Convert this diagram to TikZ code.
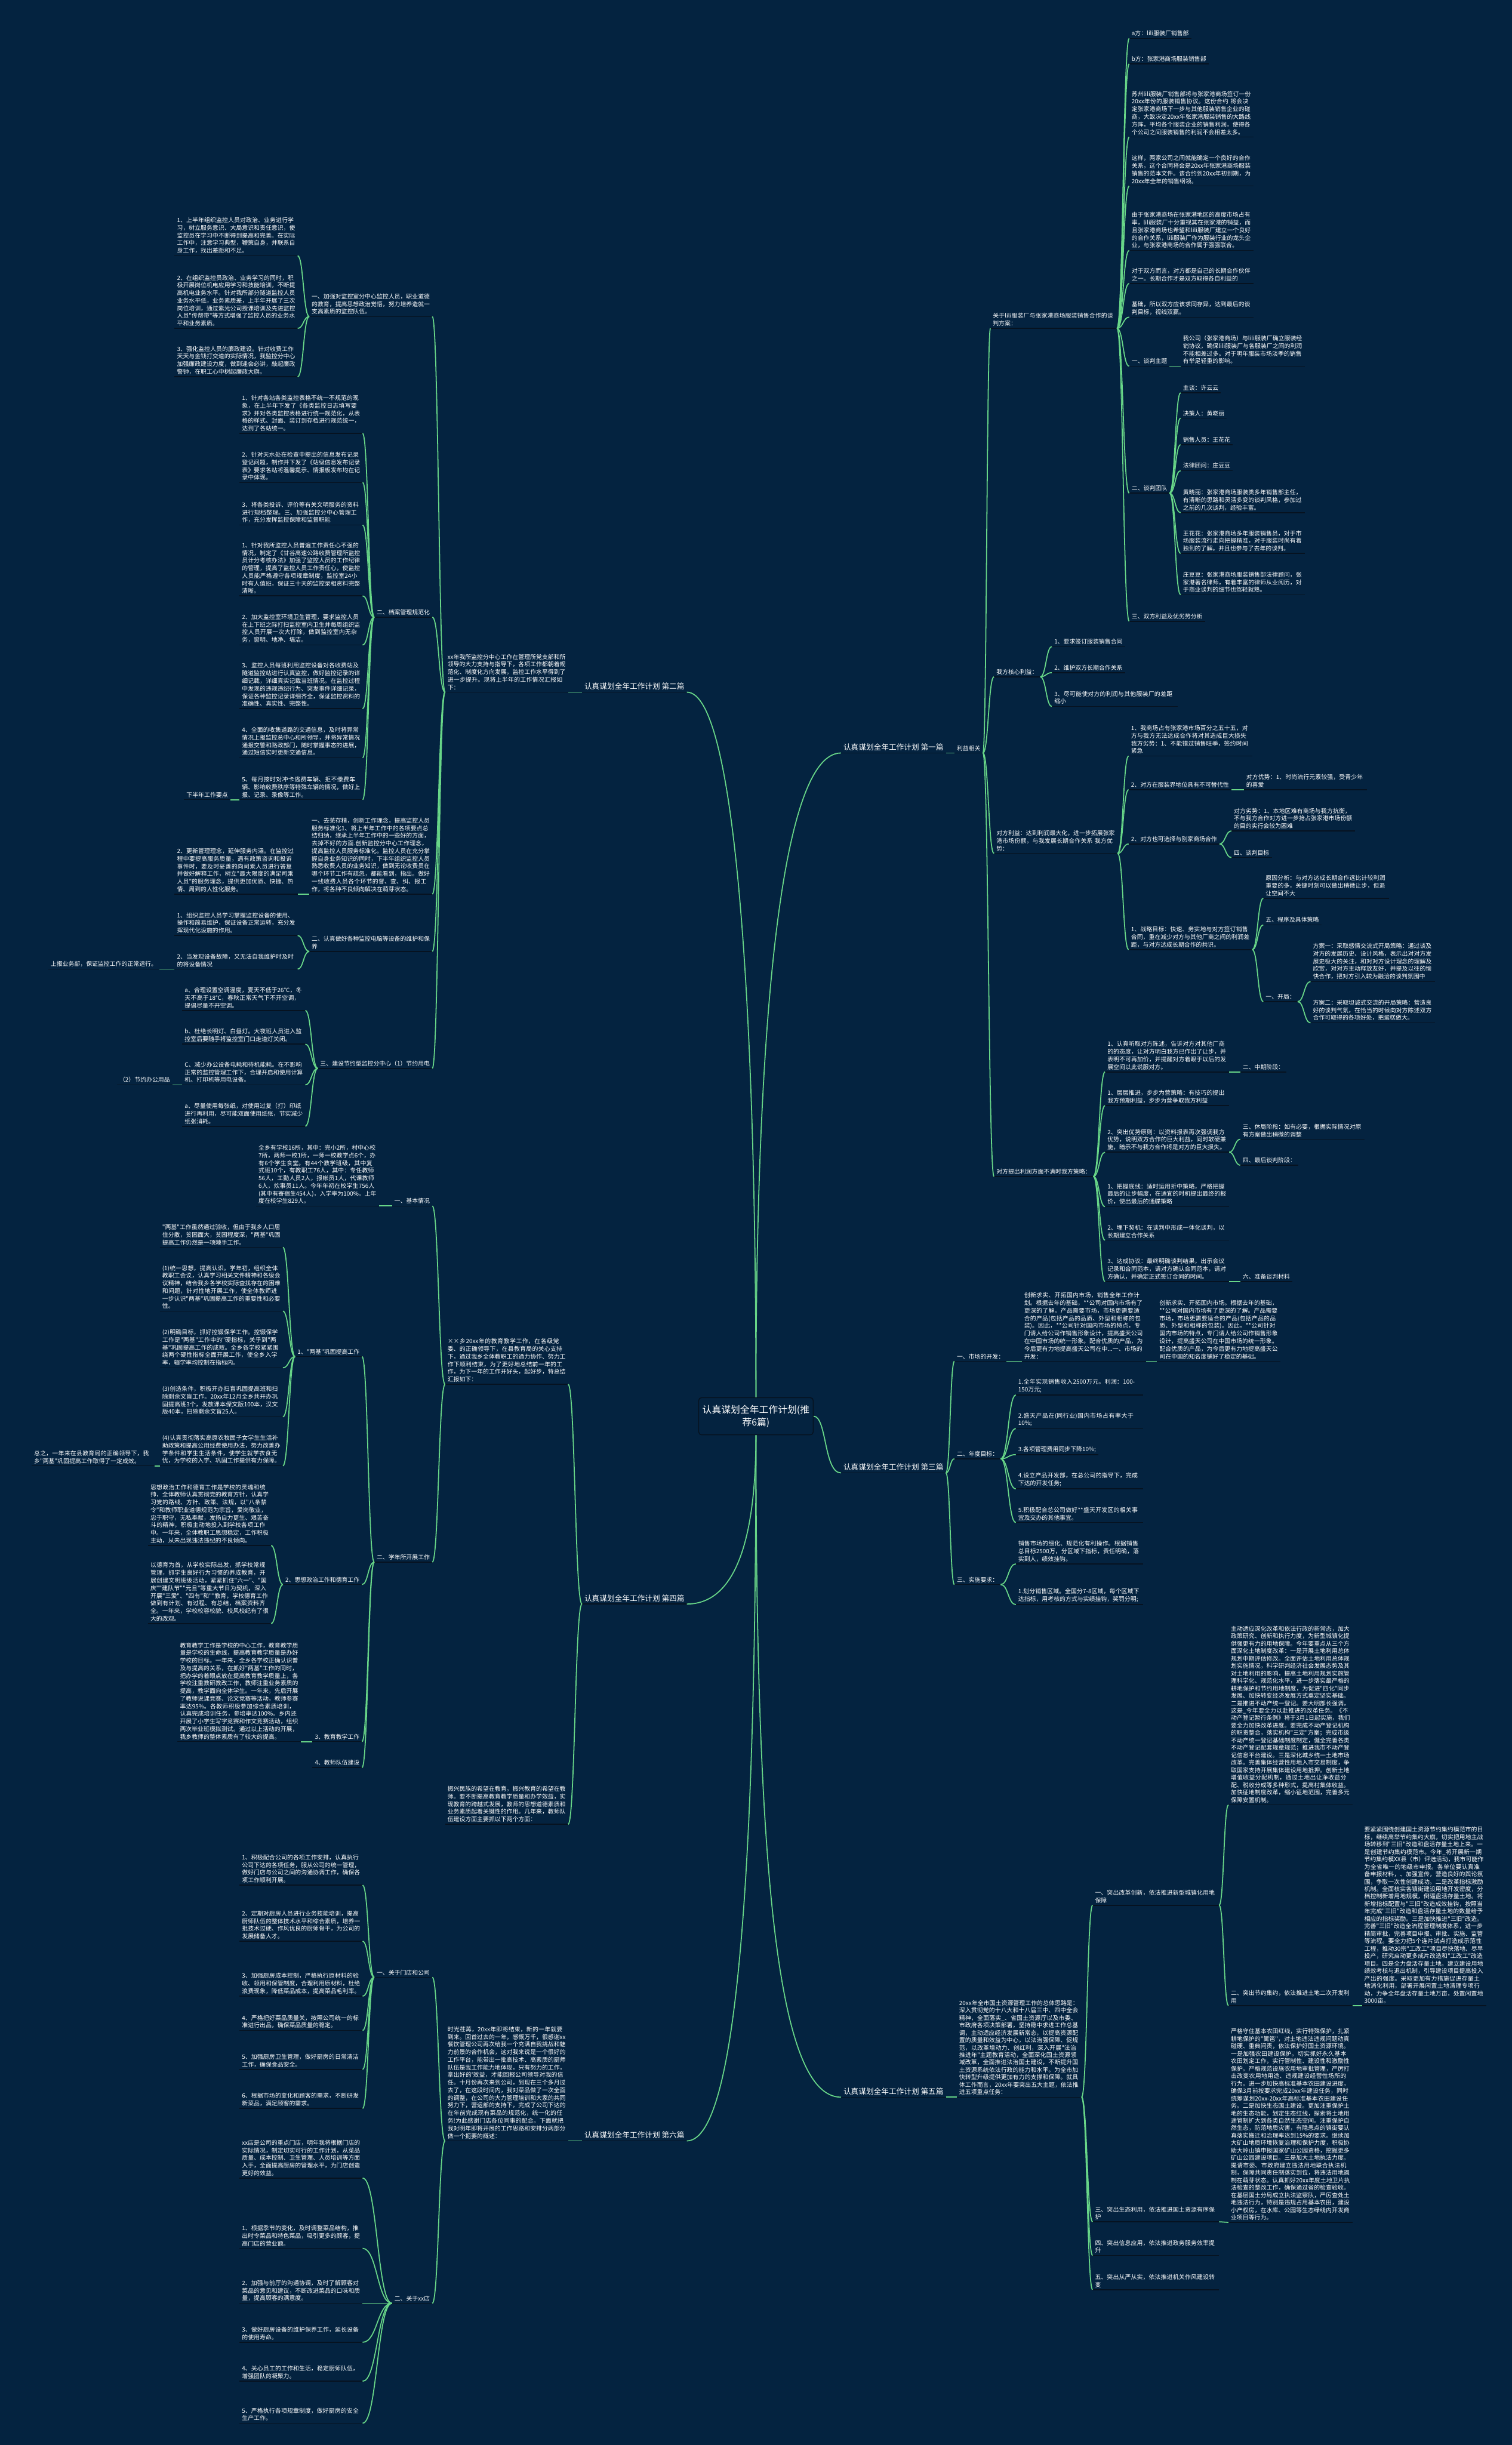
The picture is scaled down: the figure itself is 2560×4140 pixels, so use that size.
\documentclass[tikz,border=0pt]{standalone}
\usepackage{fontspec}
\usetikzlibrary{calc}
\newfontfamily\cjk{Noto Sans CJK SC}
\XeTeXlinebreaklocale "zh"
\XeTeXlinebreakskip=0pt plus 1pt
\definecolor{bgc}{RGB}{4,35,64}
\definecolor{grc}{RGB}{104,214,136}
\definecolor{ulc}{RGB}{6,18,32}
\tikzset{
  tx/.style={text=white,font=\cjk\fontsize{10}{12.9}\selectfont,inner xsep=4pt,inner ysep=3.5pt,align=left,
    append after command={(\tikzlastnode.south west) edge[draw=ulc,line width=1.6pt] (\tikzlastnode.south east)}},
  big/.style={font=\cjk\fontsize{12.8}{15}\selectfont},
  conn/.style={draw=grc,line width=1.8pt},
  br/.style={to path={let \p1=(\tikztostart),\p2=(\tikztotarget) in .. controls ({0.5*\x1+0.5*\x2},\y1) and ({0.5*\x1+0.5*\x2},\y2) .. (\tikztotarget)}},
}
\newcommand\myR[5]{\node[tx,anchor=south west,text width=#4pt] (#1) at (#2,#3) {#5};}
\newcommand\myRs[4]{\node[tx,anchor=south west] (#1) at (#2,#3) {#4};}
\newcommand\myL[5]{\node[tx,anchor=south east,text width=#4pt] (#1) at (#2,#3) {#5};}
\newcommand\myLs[4]{\node[tx,anchor=south east] (#1) at (#2,#3) {#4};}
\newcommand\myCR[2]{\draw[conn] (#1.south east) to[br] (#2.south west);}
\newcommand\myCL[2]{\draw[conn] (#1.south west) to[br] (#2.south east);}
\begin{document}
\begin{tikzpicture}[x=1pt,y=-1pt]
\fill[bgc] (0,0) rectangle (2560,4140);
\useasboundingbox (0,0) rectangle (2560,4140);

% ---------- root ----------
\node[draw=ulc,fill=bgc,line width=1.5pt,rounded corners=5pt,text=white,font=\cjk\fontsize{16}{21}\selectfont,
  align=center,minimum width=194pt,minimum height=63pt] (root) at (1280,2398) {认真谋划全年工作计划(推\\荐6篇)};

% ---------- main branches ----------
\node[tx,big,anchor=south east] (B0) at (1163,1172) {认真谋划全年工作计划 第二篇};
\node[tx,big,anchor=south west] (A0) at (1424,1275) {认真谋划全年工作计划 第一篇};
\node[tx,big,anchor=south west] (C0) at (1424,2494) {认真谋划全年工作计划 第三篇};
\node[tx,big,anchor=south east] (D0) at (1163,2716) {认真谋划全年工作计划 第四篇};
\node[tx,big,anchor=south west] (E0) at (1424,3551) {认真谋划全年工作计划 第五篇};
\node[tx,big,anchor=south east] (F0) at (1163,3625) {认真谋划全年工作计划 第六篇};

\draw[conn] (root.north) .. controls (1280,1700) and (1245,1172) .. (B0.south east);
\draw[conn] (root.north) .. controls (1280,1750) and (1320,1275) .. (A0.south west);
\draw[conn] (root.east) .. controls (1400,2398) and (1395,2494) .. (C0.south west);
\draw[conn] (root.south) .. controls (1280,2620) and (1240,2716) .. (D0.south east);
\draw[conn] (root.south) .. controls (1280,3200) and (1320,3551) .. (E0.south west);
\draw[conn] (root.south) .. controls (1280,3250) and (1240,3625) .. (F0.south east);

% ================= 第二篇 =================
\myL{B1}{962}{1172}{200}{xx年我所监控分中心工作在管理所党支部和所领导的大力支持与指导下，各项工作都朝着规范化、制度化方向发展，监控工作水平得到了进一步提升。现将上半年的工作情况汇报如下：}
\myL{B2a}{732}{536}{200}{一、加强对监控室分中心监控人员，职业道德的教育，提高思想政治觉悟，努力培养造就一支高素质的监控队伍。}
\myLs{B2b}{732}{1045}{二、档案管理规范化}
\myL{B2c}{732}{1514}{200}{一、去芜存精，创新工作理念，提高监控人员服务标准化1、将上半年工作中的各项要点总结归纳，继承上半年工作中的一些好的方面，去掉不好的方面.创新监控分中心工作理念，提高监控人员服务标准化。监控人员在充分掌握自身业务知识的同时，下半年组织监控人员熟悉收费人员的业务知识，做到无论收费员在哪个环节工作有疏忽，都能看到，指出。做好一线收费人员各个环节的督、查、纠、报工作，将各种不良倾向解决在萌芽状态。}
\myL{B2d}{732}{1611}{200}{二、认真做好各种监控电脑等设备的维护和保养}
\myLs{B2e}{732}{1809}{三、建设节约型监控分中心（1）节约用电}
\myL{Ba1}{504}{433}{200}{1、上半年组织监控人员对政治、业务进行学习，树立服务意识、大局意识和责任意识，使监控员在学习中不断得到提高和完善。在实际工作中，注意学习典型，鞭策自身，并联系自身工作，找出差距和不足。}
\myL{Ba2}{504}{556}{200}{2、在组织监控员政治、业务学习的同时，积极开展岗位机电应用学习和技能培训，不断提高机电业务水平。针对我所部分隧道监控人员业务水平低，业务素质差，上半年开展了三次岗位培训，通过紫光公司授课培训及先进监控人员"传帮带"等方式增强了监控人员的业务水平和业务素质。}
\myL{Ba3}{504}{638}{200}{3、强化监控人员的廉政建设。针对收费工作天天与金钱打交道的实际情况，我监控分中心加强廉政建设力度，做到逢会必讲，敲起廉政警钟，在职工心中树起廉政大旗。}
\myL{Bb1}{614}{734}{200}{1、针对各站各类监控表格不统一不规范的现象，在上半年下发了《各类监控日志填写要求》并对各类监控表格进行统一规范化，从表格的样式、封面、装订到存档进行规范统一，达到了各站统一。}
\myL{Bb2}{614}{817}{200}{2、针对天水处在检查中提出的信息发布记录登记问题，制作并下发了《站级信息发布记录表》要求各站将温馨提示、情报板发布均在记录中体现。}
\myL{Bb3}{614}{889}{200}{3、将各类投诉、评价等有关文明服务的资料进行规档整理。三、加强监控分中心管理工作，充分发挥监控保障和监督职能}
\myL{Bb4}{614}{1009}{200}{1、针对我所监控人员普遍工作责任心不强的情况，制定了《甘谷高速公路收费管理所监控员计分考核办法》加强了监控人员的工作纪律的管理，提高了监控人员工作责任心，使监控人员能严格遵守各项规章制度，监控室24小时有人值班，保证三十天的监控录相资料完整清晰。}
\myL{Bb5}{614}{1092}{200}{2、加大监控室环境卫生管理，要求监控人员在上下班之际打扫监控室内卫生并每周组织监控人员开展一次大打除，做到监控室内无杂务，窗明、地净、墙洁。}
\myL{Bb6}{614}{1200}{200}{3、监控人员每班利用监控设备对各收费站及隧道监控站进行认真监控，做好监控记录的详细记载，详细真实记载当班情况。在监控过程中发现的违规违纪行为、突发事件详细记录，保证各种监控记录详细齐全，保证监控资料的准确性、真实性、完整性。}
\myL{Bb7}{614}{1283}{200}{4、全面的收集道路的交通信息，及时将异常情况上报监控总中心和所领导，并将异常情况通报交警和路政部门，随时掌握事态的进展，通过短信实时更新交通信息。}
\myL{Bb8}{614}{1354}{200}{5、每月按时对冲卡逃费车辆、拒不缴费车辆、影响收费秩序等特殊车辆的情况，做好上报、记录、录像等工作。}
\myLs{Bb9}{390}{1354}{下半年工作要点}
\myL{Bc1}{504}{1514}{200}{2、更新管理理念，延伸服务内涵。在监控过程中要提高服务质量，遇有政策咨询和投诉事件时，要及时妥善的向司乘人员进行答复并做好解释工作，树立"最大限度的满足司乘人员"的服务理念，提供更加优质、快捷、热情、周到的人性化服务。}
\myL{Bd1}{504}{1584}{200}{1、组织监控人员学习掌握监控设备的使用、操作和简易维护，保证设备正常运转，充分发挥现代化设施的作用。}
\myL{Bd2}{504}{1641}{200}{2、当发现设备故障，又无法自我维护时及时的将设备情况}
\myLs{Bd3}{270}{1641}{上报业务部，保证监控工作的正常运行。}
\myL{Be1}{517}{1711}{200}{a、合理设置空调温度，夏天不低于26℃，冬天不高于18℃，春秋正常天气下不开空调，提倡尽量不开空调。}
\myL{Be2}{517}{1768}{200}{b、杜绝长明灯、白昼灯。大夜班人员进入监控室后要随手将监控室门口走道灯关闭。}
\myL{Be3}{517}{1837}{200}{C、减少办公设备电耗和待机能耗。在不影响正常的监控管理工作下，合理开启和使用计算机、打印机等用电设备。}
\myL{Be4}{517}{1907}{200}{a、尽量使用每张纸，对使用过复（打）印纸进行再利用，尽可能双面使用纸张，节实减少纸张消耗。}
\myLs{Be5}{292}{1837}{（2）节约办公用品}

\myCL{B0}{B1}
\foreach \c in {B2a,B2b,B2c,B2d,B2e}{\myCL{B1}{\c}}
\foreach \c in {Ba1,Ba2,Ba3}{\myCL{B2a}{\c}}
\foreach \c in {Bb1,Bb2,Bb3,Bb4,Bb5,Bb6,Bb7,Bb8}{\myCL{B2b}{\c}}
\myCL{Bb8}{Bb9}
\myCL{B2c}{Bc1}
\foreach \c in {Bd1,Bd2}{\myCL{B2d}{\c}}
\myCL{Bd2}{Bd3}
\foreach \c in {Be1,Be2,Be3,Be4}{\myCL{B2e}{\c}}
\myCL{Be3}{Be5}

% ================= 第四篇 =================
\myL{D1}{962}{2344}{200}{××乡20xx年的教育教学工作，在各级党委、的正确领导下，在县教育局的关心支持下，通过我乡全体教职工的通力协作、努力工作下顺利结束，为了更好地总结前一年的工作，为下一年的工作开好头，起好步，特总结汇报如下：}
\myL{D2}{962}{3089}{200}{振兴民族的希望在教育，振兴教育的希望在教师。要不断提高教育教学质量和办学效益，实现教育的跨越式发展，教师的思想道德素质和业务素质起着关键性的作用。几年来，教师队伍建设方面主要抓以下两个方面：}
\myLs{Df1}{732}{2042}{一、基本情况}
\myLs{Df2}{732}{2645}{二、学年所开展工作}
\myL{Dg1}{642}{2042}{200}{全乡有学校16所，其中：完小2所，村中心校7所，两师一校1所，一师一校教学点6个，办有6个学生食堂。有44个教学班级，其中复式班10个，有教职工76人，其中：专任教师56人，工勤人员2人，报帐员1人，代课教师6人，炊事员11人。今年年初在校学生756人(其中有寄宿生454人)，入学率为100\%。上年度在校学生829人。}
\myLs{Dh1}{613}{2297}{1、"两基"巩固提高工作}
\myLs{Dh2}{613}{2683}{2、思想政治工作和德育工作}
\myLs{Dh3}{613}{2949}{3、教育教学工作}
\myLs{Dh4}{613}{2993}{4、教师队伍建设}
\myL{Dk1}{479}{2112}{200}{"两基"工作虽然通过验收，但由于我乡人口居住分散，贫困面大，贫困程度深，"两基"巩固提高工作仍然是一项棘手工作。}
\myL{Dk2}{479}{2220}{200}{(1)统一思想，提高认识。学年初，组织全体教职工会议，认真学习相关文件精神和各级会议精神，结合我乡各学校实际查找存在的困难和问题，针对性地开展工作，使全体教师进一步认识"两基"巩固提高工作的重要性和必要性。}
\myL{Dk3}{479}{2316}{200}{(2)明确目标，抓好控辍保学工作。控辍保学工作是"两基"工作中的"硬指标，关乎到"两基"巩固提高工作的成败。全乡各学校紧紧围绕两个硬性指标全面开展工作，使全乡入学率，辍学率均控制在指标内。}
\myL{Dk4}{479}{2399}{200}{(3)创造条件，积极开办扫盲巩固提高班和扫除剩余文盲工作。20xx年12月全乡共开办巩固提高班3个，发放课本傈文版100本，汉文版40本，扫除剩余文盲25人。}
\myL{Dk5}{479}{2482}{200}{(4)认真贯彻落实高原农牧民子女学生生活补助政策和提高公用经费使用办法，努力改善办学条件和学生生活条件，使学生就学衣食无忧，为学校的入学、巩固工作提供有力保障。}
\myL{Dk6}{262}{2482}{200}{总之，一年来在县教育局的正确领导下，我乡"两基"巩固提高工作取得了一定成效。}
\myL{Dm1}{459}{2617}{200}{思想政治工作和德育工作是学校的灵魂和统帅，全体教师认真贯彻党的教育方针，认真学习党的路线、方针、政策、法规，以"八条禁令"和教师职业道德规范为宗旨，爱岗敬业，忠于职守，无私奉献，发扬自力更生、艰苦奋斗的精神，积极主动地投入到学校各项工作中。一年来，全体教职工思想稳定，工作积极主动，从未出现违法违纪的不良倾向。}
\myL{Dm2}{459}{2749}{200}{以德育为首，从学校实际出发，抓学校常规管理，抓学生良好行为习惯的养成教育，开展创建文明班级活动，紧紧抓住"六一"、"国庆""建队节""元旦"等重大节日为契机，深入开展"三爱"、"四有"和""教育，学校德育工作做到有计划、有过程、有总结，档案资料齐全。一年来，学校校容校貌、校风校纪有了很大的改观。}
\myL{Dn1}{509}{2949}{200}{教育教学工作是学校的中心工作，教育教学质量是学校的生命线，提高教育教学质量是办好学校的目标。一年来，全乡各学校正确认识普及与提高的关系，在抓好"两基"工作的同时，把办学的着眼点放在提高教育教学质量上，各学校注重教研教改工作，教师注重业务素质的提高，教学面向全体学生。一年来，先后开展了教师说课竞赛、论文竞赛等活动，教师参赛率达95\%。各教师积极参加综合素质培训，认真完成培训任务，参培率达100\%。乡内还开展了小学生写字竞赛和作文竞赛活动，组织两次毕业班模拟测试。通过以上活动的开展，我乡教师的整体素质有了较大的提高。}

\foreach \c in {D1,D2}{\myCL{D0}{\c}}
\foreach \c in {Df1,Df2}{\myCL{D1}{\c}}
\myCL{Df1}{Dg1}
\foreach \c in {Dh1,Dh2,Dh3,Dh4}{\myCL{Df2}{\c}}
\foreach \c in {Dk1,Dk2,Dk3,Dk4,Dk5}{\myCL{Dh1}{\c}}
\myCL{Dk5}{Dk6}
\foreach \c in {Dm1,Dm2}{\myCL{Dh2}{\c}}
\myCL{Dh3}{Dn1}

% ================= 第六篇 =================
\myL{F1}{962}{3625}{200}{时光荏苒，20xx年即将结束，新的一年就要到来。回首过去的一年，感慨万千，很感谢xx餐饮管理公司再次给我一个充满自我挑战和魅力前景的合作机会，这对我来说是一个很好的工作平台，能带出一批高技术、高素质的厨师队伍是我工作能力地体现，只有努力的工作，拿出好的'效益，才能回报公司领导对我的信任。十月份再次来到公司，到现在三个多月过去了，在这段时间内，我对菜品做了一次全面的调整，在公司的大力管理培训和大家的共同努力下，营运部的支持下，完成了公司下达的在年前完成现有菜品的规范化，统一化的任务!为此感谢门店各位同事的配合。下面就把我对明年即将开展的工作思路和安排分两部分做一个扼要的概述：}
\myLs{F2a}{732}{3348}{一、关于门店和公司}
\myLs{F2b}{732}{3900}{二、关于xx店}
\myL{Fa1}{614}{3192}{200}{1、积极配合公司的各项工作安排，认真执行公司下达的各项任务，服从公司的统一管理，做好门店与公司之间的沟通协调工作，确保各项工作顺利开展。}
\myL{Fa2}{614}{3287}{200}{2、定期对厨房人员进行业务技能培训，提高厨师队伍的整体技术水平和综合素质，培养一批技术过硬、作风优良的厨师骨干，为公司的发展储备人才。}
\myL{Fa3}{614}{3380}{200}{3、加强厨房成本控制，严格执行原材料的验收、领用和保管制度，合理利用原材料，杜绝浪费现象，降低菜品成本，提高菜品毛利率。}
\myL{Fa4}{614}{3438}{200}{4、严格把好菜品质量关，按照公司统一的标准进行出品，确保菜品质量的稳定。}
\myL{Fa5}{614}{3504}{200}{5、加强厨房卫生管理，做好厨房的日常清洁工作，确保食品安全。}
\myL{Fa6}{614}{3570}{200}{6、根据市场的变化和顾客的需求，不断研发新菜品，满足顾客的需求。}
\myL{Fb1}{614}{3688}{200}{xx店是公司的重点门店，明年我将根据门店的实际情况，制定切实可行的工作计划，从菜品质量、成本控制、卫生管理、人员培训等方面入手，全面提高厨房的管理水平，为门店创造更好的效益。}
\myL{Fb2}{614}{3807}{200}{1、根据季节的变化，及时调整菜品结构，推出时令菜品和特色菜品，吸引更多的顾客，提高门店的营业额。}
\myL{Fb3}{614}{3900}{200}{2、加强与前厅的沟通协调，及时了解顾客对菜品的意见和建议，不断改进菜品的口味和质量，提高顾客的满意度。}
\myL{Fb4}{614}{3966}{200}{3、做好厨房设备的维护保养工作，延长设备的使用寿命。}
\myL{Fb5}{614}{4032}{200}{4、关心员工的工作和生活，稳定厨师队伍，增强团队的凝聚力。}
\myL{Fb6}{614}{4103}{200}{5、严格执行各项规章制度，做好厨房的安全生产工作。}
\myCL{F0}{F1}
\foreach \c in {F2a,F2b}{\myCL{F1}{\c}}
\foreach \c in {Fa1,Fa2,Fa3,Fa4,Fa5,Fa6}{\myCL{F2a}{\c}}
\foreach \c in {Fb1,Fb2,Fb3,Fb4,Fb5,Fb6}{\myCL{F2b}{\c}}

% ================= 第一篇 =================
\myRs{A1}{1616}{1275}{利益相关}
\myR{Aq1}{1677}{556}{206}{关于lili服装厂与张家港商场服装销售合作的谈判方案：}
\myRs{Aq2}{1683}{1146}{我方核心利益：}
\myR{Aq3}{1683}{1445}{201}{对方利益：达到利润最大化，进一步拓展张家港市场份额，与我发展长期合作关系 我方优势：}
\myRs{Aq4}{1683}{1992}{对方提出利润方面不满时我方策略：}
\myRs{At1}{1912}{65}{a方：lili服装厂销售部}
\myRs{At2}{1912}{108}{b方：张家港商场服装销售部}
\myR{At3}{1912}{232}{202}{苏州lili服装厂销售部将与张家港商场签订一份20xx年份的服装销售协议。这份合约 将会决定张家港商场下一步与其他服装销售企业的磋商，大致决定20xx年张家港服装销售的大路线方阵，平均各个服装企业的销售利润，使得各个公司之间服装销售的利润不会相差太多。}
\myR{At4}{1912}{315}{202}{这样，两家公司之间就能确定一个良好的合作关系，这个合同将会是20xx年张家港商场服装销售的范本文件。该合约到20xx年初到期，为20xx年全年的销售纲领。}
\myR{At5}{1912}{424}{202}{由于张家港商场在张家港地区的高度市场占有率，lili服装厂十分重视其在张家港的销益，而且张家港商场也希望和lili服装厂建立一个良好的合作关系，lili服装厂作为服装行业的龙头企业，与张家港商场的合作属于强强联合。}
\myR{At6}{1912}{480}{202}{对于双方而言，对方都是自己的长期合作伙伴之一。长期合作才是双方取得各自利益的}
\myR{At7}{1912}{537}{202}{基础，所以双方应该求同存异，达到最后的谈判目标，视线双赢。}
\myRs{At8}{1912}{620}{一、谈判主题}
\myRs{At9}{1912}{835}{二、谈判团队}
\myRs{At10}{1912}{1052}{三、双方利益及优劣势分析}
\myR{Au1}{1999}{620}{202}{我公司（张家港商场）与lili服装厂确立服装经销协议，确保lili服装厂与各服装厂之间的利润不能相差过多。对于明年服装市场淡季的销售有举足轻重的影响。}
\myRs{Av1}{1999}{665}{主谈：许云云}
\myRs{Av2}{1999}{708}{决策人：黄晓丽}
\myRs{Av3}{1999}{753}{销售人员：王花花}
\myRs{Av4}{1999}{797}{法律顾问：庄豆豆}
\myR{Av5}{1999}{868}{202}{黄晓丽：张家港商场服装类多年销售部主任，有清晰的思路和灵活多变的谈判风格，参加过之前的几次谈判，经验丰富。}
\myR{Av6}{1999}{937}{202}{王花花：张家港商场多年服装销售员，对于市场服装流行走向把握精准，对于服装时尚有着独到的了解。并且也参与了去年的谈判。}
\myR{Av7}{1999}{1007}{202}{庄豆豆：张家港商场服装销售部法律顾问，张家港著名律师，有着丰富的律师从业阅历，对于商业谈判的细节也驾轻就熟。}
\myRs{Aw1}{1781}{1095}{1、要求签订服装销售合同}
\myRs{Aw2}{1781}{1139}{2、维护双方长期合作关系}
\myR{Aw3}{1781}{1196}{205}{3、尽可能使对方的利润与其他服装厂的差距缩小}
\myR{Ax1}{1911}{1280}{201}{1、我商场占有张家港市场百分之五十五，对方与我方无法达成合作将对其造成巨大损失 我方劣势：1、不能错过销售旺季，签约时间紧急}
\myRs{Ax2}{1911}{1337}{2、对方在服装界地位具有不可替代性}
\myRs{Ax3}{1911}{1429}{2、对方也可选择与别家商场合作}
\myR{Ax4}{1911}{1608}{201}{1、战略目标：快速、务实地与对方签订销售合同，重在减少对方与其他厂商之间的利润差距，与对方达成长期合作的共识。}
\myR{Ay1}{2106}{1337}{200}{对方优势：1、时尚流行元素较强，受青少年的喜爱}
\myR{Ay2}{2085}{1407}{201}{对方劣势：1、本地区难有商场与我方抗衡，不与我方合作对方进一步抢占张家港市场份额的目的实行会较为困难}
\myRs{Ay3}{2085}{1452}{四、谈判目标}
\myR{Az1}{2139}{1521}{205}{原因分析：与对方达成长期合作远比计较利润重要的多，关键时刻可以做出稍微让步，但退让空间不大}
\myRs{Az2}{2139}{1566}{五、程序及具体策略}
\myRs{Az3}{2139}{1696}{一、开局：}
\myR{Ao1}{2219}{1662}{202}{方案一：采取感情交流式开局策略：通过谈及对方的发展历史、设计风格，表示出对对方发展史极大的关注，和对对方设计理念的理解及欣赏，对对方主动释放友好，并提及以往的愉快合作，把对方引入较为融洽的谈判氛围中}
\myR{Ao2}{2219}{1732}{202}{方案二：采取坦诚式交流的开局策略：营造良好的谈判气氛，在恰当的时候向对方陈述双方合作可取得的各项好处，把蛋糕做大。}
\myR{Aa1}{1871}{1815}{202}{1、认真听取对方陈述，告诉对方对其他厂商的的态度，让对方明白我方已作出了让步，并表明不可再加价，并提醒对方着眼于以后的发展空间以此说服对方。}
\myR{Aa2}{1871}{1872}{202}{1、层层推进，步步为营策略：有技巧的提出我方预期利益，步步为营争取我方利益}
\myR{Aa3}{1871}{1951}{202}{2、突出优势原则：以资料报表再次强调我方优势，说明双方合作的巨大利益，同时软硬兼施，暗示不与我方合作将是对方的巨大损失。}
\myR{Aa4}{1871}{2043}{202}{1、把握底线：适时运用折中策略，严格把握最后的让步幅度，在适宜的时机提出最终的报价，使出最后的通牒策略}
\myR{Aa5}{1871}{2100}{202}{2、埋下契机：在谈判中形成一体化谈判，以长期建立合作关系}
\myR{Aa6}{1871}{2170}{202}{3、达成协议：最终明确谈判结果，出示会议记录和合同范本，请对方确认合同范本，请对方确认，并确定正式签订合同的时间。}
\myRs{Ab1}{2100}{1815}{二、中期阶段：}
\myR{Ab2}{2100}{1929}{202}{三、休局阶段：如有必要，根据实际情况对原有方案做出稍微的调整}
\myRs{Ab3}{2100}{1973}{四、最后谈判阶段：}
\myRs{Ab4}{2100}{2170}{六、准备谈判材料}

\myCR{A0}{A1}
\foreach \c in {Aq1,Aq2,Aq3,Aq4}{\myCR{A1}{\c}}
\foreach \c in {At1,At2,At3,At4,At5,At6,At7,At8,At9,At10}{\myCR{Aq1}{\c}}
\myCR{At8}{Au1}
\foreach \c in {Av1,Av2,Av3,Av4,Av5,Av6,Av7}{\myCR{At9}{\c}}
\foreach \c in {Aw1,Aw2,Aw3}{\myCR{Aq2}{\c}}
\foreach \c in {Ax1,Ax2,Ax3,Ax4}{\myCR{Aq3}{\c}}
\myCR{Ax2}{Ay1}
\foreach \c in {Ay2,Ay3}{\myCR{Ax3}{\c}}
\foreach \c in {Az1,Az2,Az3}{\myCR{Ax4}{\c}}
\foreach \c in {Ao1,Ao2}{\myCR{Az3}{\c}}
\foreach \c in {Aa1,Aa2,Aa3,Aa4,Aa5,Aa6}{\myCR{Aq4}{\c}}
\myCR{Aa1}{Ab1}
\foreach \c in {Ab2,Ab3}{\myCR{Aa3}{\c}}
\myCR{Aa6}{Ab4}

% ================= 第三篇 =================
\myRs{C1}{1616}{2305}{一、市场的开发：}
\myRs{C2}{1616}{2470}{二、年度目标：}
\myRs{C3}{1616}{2683}{三、实施要求：}
\myR{Cd1}{1730}{2305}{202}{创新求实、开拓国内市场，销售全年工作计划。根据去年的基础，**公司对国内市场有了更深的了解。产品需要市场，市场更需要适合的产品(包括产品的品质、外型和相称的包装)。因此，**公司针对国内市场的特点，专门请人给公司作销售形象设计，提高盛天公司在中国市场的统一形象。配合优质的产品，为今后更有力地提高盛天公司在中...一、市场的开发：}
\myR{Cd2}{1959}{2305}{201}{创新求实、开拓国内市场。根据去年的基础，**公司对国内市场有了更深的了解。产品需要市场，市场更需要适合的产品(包括产品的品质、外型和相称的包装)。因此，**公司针对国内市场的特点，专门请人给公司作销售形象设计，提高盛天公司在中国市场的统一形象。配合优质的产品，为今后更有力地提高盛天公司在中国的知名度铺好了稳定的基础。}
\myR{Ce1}{1720}{2362}{207}{1.全年实现销售收入2500万元。利润：100-150万元;}
\myR{Ce2}{1720}{2419}{207}{2.盛天产品在(同行业)国内市场占有率大于10\%;}
\myRs{Ce3}{1720}{2463}{3.各项管理费用同步下降10\%;}
\myR{Ce4}{1720}{2521}{207}{4.设立产品开发部，在总公司的指导下，完成下达的开发任务;}
\myR{Ce5}{1720}{2578}{207}{5.积极配合总公司做好**盛天开发区的相关事宜及交办的其他事宜。}
\myR{Cf1}{1720}{2648}{207}{销售市场的细化、规范化有利操作。根据销售总目标2500万，分区域下指标，责任明确，落实到人，绩效挂钩。}
\myR{Cf2}{1720}{2717}{207}{1.划分销售区域。全国分7-8区域，每个区域下达指标，用考核的方式与实绩挂钩，奖罚分明;}

\foreach \c in {C1,C2,C3}{\myCR{C0}{\c}}
\myCR{C1}{Cd1}
\myCR{Cd1}{Cd2}
\foreach \c in {Ce1,Ce2,Ce3,Ce4,Ce5}{\myCR{C2}{\c}}
\foreach \c in {Cf1,Cf2}{\myCR{C3}{\c}}

% ================= 第五篇 =================
\begin{scope}[tx/.append style={font=\cjk\fontsize{10}{12.6}\selectfont}]
\myR{E1}{1620}{3551}{203}{20xx年全市国土资源管理工作的总体思路是：深入贯彻党的十八大和十八届三中、四中全会精神，全面落实\_、省国土资源厅以及市委、市政府各项决策部署，坚持稳中求进工作总基调，主动适应经济发展新常态，以提高资源配置的质量和效益为中心，以法治强保障、促规范，以改革增动力、创红利，深入开展"法治推进年"主题教育活动，全面深化国土资源领域改革，全面推进法治国土建设，不断提升国土资源系统依法行政的能力和水平。为全市加快转型升级提供更加有力的支撑和保障。就具体工作而言，20xx年要突出五大主题，依法推进五项重点任务：}
\myR{E2a}{1850}{3226}{206}{一、突出改革创新，依法推进新型城镇化用地保障}
\myR{E2c}{1850}{3762}{206}{三、突出生态利用，依法推进国土资源有序保护}
\myR{E2d}{1850}{3819}{206}{四、突出信息应用，依法推进政务服务效率提升}
\myR{E2e}{1850}{3877}{206}{五、突出从严从实，依法推进机关作风建设转变}
\myR{Ei1}{2080}{3056}{202}{主动适应深化改革和依法行政的新常态，加大政策研究、创新和执行力度，为新型城镇化提供强更有力的用地保障。今年要重点从三个方面深化土地制度改革：一是开展土地利用总体规划中期评估修改。全面评估土地利用总体规划实施情况，科学研判经济社会发展态势及其对土地利用的影响，提高土地利用规划实施管理科学化、规范化水平，进一步落实最严格的耕地保护和节约用地制度，为促进"四化"同步发展、加快转变经济发展方式奠定坚实基础。二是推进不动产统一登记。姜大明部长强调，这是\_今年要全力以赴推进的改革任务。《不动产登记暂行条例》将于3月1日起实施，我们要全力加快改革进度。要完成不动产登记机构的职责整合，落实机构"三定"方案；完成市级不动产统一登记基础制度制定，健全完善各类不动产登记配套规章规范；推进我市不动产登记信息平台建设。三是深化城乡统一土地市场改革。完善集体经营性用地入市交易制度，争取国家支持开展集体建设用地抵押。创新土地增值收益分配机制，通过土地出让净收益分配、税收分成等多种形式，提高村集体收益。加快征地制度改革，缩小征地范围，完善多元保障安置机制。}
\myR{Ei2}{2080}{3396}{202}{二、突出节约集约，依法推进土地二次开发利用}
\myR{Ej1}{2306}{3396}{202}{要紧紧围绕创建国土资源节约集约模范市的目标，继续高举节约集约大旗，切实把用地主战场转移到"三旧"改造和盘活存量土地上来。一是创建节约集约模范市。今年\_将开展新一期节约集约模XX县（市）评选活动，我市可能作为全省唯一的地级市申报。各单位要认真准备申报材料，、加强宣传，营造良好的舆论氛围，争取一次性创建成功。二是改革指标激励机制。全面核实各镇街建设用地开发密度，分档控制新增用地规模，倒逼盘活存量土地。将新增指标配置与"三旧"改造成效挂钩，按照当年完成"三旧"改造和盘活存量土地的数量给予相应的指标奖励。三是加快推进"三旧"改造。完善"三旧"改造全流程管理制度体系，进一步精简审批，完善项目申报、审批、实施、监管等流程。要全力把5个连片试点打造成示范性工程，推动30宗"工改工"项目尽快落地、尽早投产，研究启动更多成片改造和"工改工"改造项目。四是全力盘活存量土地。建立建设用地绩效考核与退出机制，引导建设项目提高投入产出的强度。采取更加有力措施促进存量土地消化利用，部署开展闲置土地清理专项行动，力争全年盘活存量土地万亩，处置闲置地3000亩。}
\myR{Ek1}{2080}{3763}{202}{严格守住基本农田红线，实行特殊保护，扎紧耕地保护的"篱笆"，对土地违法违规问题动真碰硬、重典问责，依法保护好国土资源环境。一是加强农田建设保护。切实抓好永久基本农田划定工作，实行管制性、建设性和激励性保护。严格规范设施农用地审批管理，严厉打击改变农用地用途、违规建设经营性场所的行为。进一步加快高标准基本农田建设进度，确保3月前按要求完成20xx年建设任务，同时统筹谋划20xx-20xx年高标准基本农田建设任务。二是加快生态国土建设。更加注重保护土地的生态功能，划定生态红线，探索将土地用途管制扩大到各类自然生态空间。注重保护自然生态，防范地质灾害，有隐患点的镇街要认真落实搬迁和治理率达到15\%的要求。继续加大矿山地质环境恢复治理和保护力度，积极协助大岭山镇申报国家矿山公园资格，挖掘更多矿山公园建设项目。三是加大土地执法力度。提请市委、市政府建立违法用地联合执法机制，保障共同责任制落实到位，将违法用地遏制在萌芽状态。认真抓好20xx年度土地卫片执法检查的整改工作，确保通过省的检查验收。在基层国土分局成立执法监察队，严厉查处土地违法行为，特别是违规占用基本农田，建设小产权房，在水库、公园等生态绿线内开发商业项目等行为。}
\end{scope}
\myCR{E0}{E1}
\foreach \c in {E2a,E2c,E2d,E2e}{\myCR{E1}{\c}}
\foreach \c in {Ei1,Ei2}{\myCR{E2a}{\c}}
\myCR{Ei2}{Ej1}
\myCR{E2c}{Ek1}
\end{tikzpicture}
\end{document}
